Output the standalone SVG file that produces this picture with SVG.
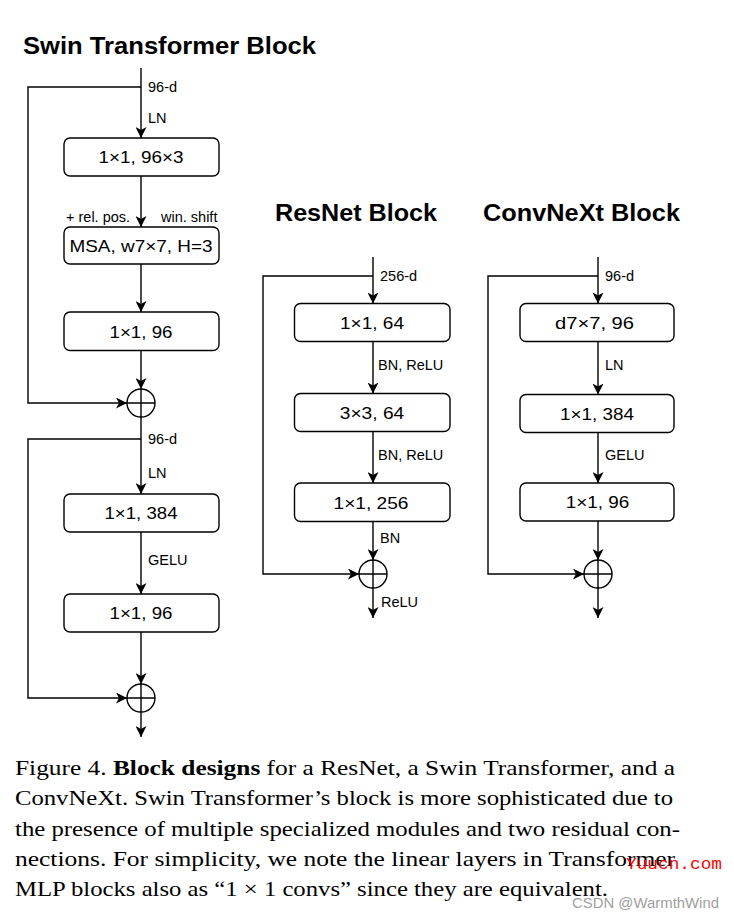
<svg xmlns="http://www.w3.org/2000/svg" width="734" height="918" viewBox="0 0 734 918">
<style>
  .box { fill: #fff; stroke: #000; stroke-width: 1.4; }
  .ln { fill: none; stroke: #000; stroke-width: 1.4; }
  .arr { marker-end: url(#ah); }
  .sum { fill: #fff; stroke: #000; stroke-width: 1.4; }
  .bt { font-family: "Liberation Sans", Arial, sans-serif; font-size: 17px; text-anchor: middle; fill: #000; }
  .lb { font-family: "Liberation Sans", Arial, sans-serif; font-size: 14.5px; fill: #000; }
  .ttl { font-family: "Liberation Sans", Arial, sans-serif; font-size: 23.5px; font-weight: bold; fill: #000; }
  .cap { font-family: "Liberation Serif", "Times New Roman", serif; font-size: 21.5px; fill: #000; }
</style>
<defs>
  <marker id="ah" markerUnits="userSpaceOnUse" markerWidth="12" markerHeight="11" viewBox="0 0 12 11" refX="11" refY="5.5" orient="auto">
    <path d="M0,0 L11,5.5 L0,11 L3,5.5 Z" fill="#000"/>
  </marker>
</defs>
<rect width="734" height="918" fill="#fff"/>

<!-- Titles -->
<text class="ttl" x="23" y="54" textLength="293" lengthAdjust="spacingAndGlyphs">Swin Transformer Block</text>
<text class="ttl" x="275" y="220.5" textLength="162" lengthAdjust="spacingAndGlyphs">ResNet Block</text>
<text class="ttl" x="483" y="220.5" textLength="197" lengthAdjust="spacingAndGlyphs">ConvNeXt Block</text>

<!-- Connectors -->
<g id="connectors">
  <!-- Swin -->
  <path class="ln arr" d="M141,68 L141,138"/>
  <path class="ln arr" d="M141,87 L28,87 L28,403 L127,403"/>
  <path class="ln arr" d="M141,176 L141,227"/>
  <path class="ln arr" d="M141,264 L141,312"/>
  <path class="ln arr" d="M141,350.5 L141,389"/>
  <path class="ln arr" d="M141,417 L141,494"/>
  <path class="ln arr" d="M141,439 L28,439 L28,698 L127,698"/>
  <path class="ln arr" d="M141,532 L141,594"/>
  <path class="ln arr" d="M141,632 L141,684"/>
  <path class="ln arr" d="M141,712 L141,737"/>
  <!-- ResNet -->
  <path class="ln arr" d="M373,257 L373,303.5"/>
  <path class="ln arr" d="M373,276 L263,276 L263,574 L359,574"/>
  <path class="ln arr" d="M373,341.5 L373,393.5"/>
  <path class="ln arr" d="M373,431.5 L373,483"/>
  <path class="ln arr" d="M373,521.5 L373,560"/>
  <path class="ln arr" d="M373,588 L373,618"/>
  <!-- ConvNeXt -->
  <path class="ln arr" d="M598,257 L598,303.5"/>
  <path class="ln arr" d="M598,276 L488,276 L488,574 L584,574"/>
  <path class="ln arr" d="M598,341.5 L598,394.5"/>
  <path class="ln arr" d="M598,432.5 L598,483"/>
  <path class="ln arr" d="M598,521 L598,560"/>
  <path class="ln arr" d="M598,588 L598,618"/>
</g>

<!-- Connector labels -->
<g id="labels">
  <text class="lb" x="148" y="92">96-d</text>
  <text class="lb" x="148" y="122.5">LN</text>
  <text class="lb" x="66" y="221.5" font-size="13.5">+ rel. pos.</text>
  <text class="lb" x="161" y="221.5" font-size="13.5">win. shift</text>
  <text class="lb" x="148" y="444">96-d</text>
  <text class="lb" x="148" y="478">LN</text>
  <text class="lb" x="148" y="565">GELU</text>

  <text class="lb" x="380" y="281">256-d</text>
  <text class="lb" x="378" y="370">BN, ReLU</text>
  <text class="lb" x="378" y="460">BN, ReLU</text>
  <text class="lb" x="380" y="543">BN</text>
  <text class="lb" x="381" y="607">ReLU</text>

  <text class="lb" x="605" y="281">96-d</text>
  <text class="lb" x="605" y="370">LN</text>
  <text class="lb" x="605" y="460">GELU</text>
</g>

<!-- Swin nodes -->
<g id="swin-qkv"><rect class="box" x="64" y="138" width="155" height="38" rx="6"/><text class="bt" x="141" y="163" textLength="85" lengthAdjust="spacingAndGlyphs">1×1, 96×3</text></g>
<g id="swin-msa"><rect class="box" x="64" y="227" width="155" height="37" rx="6"/><text class="bt" x="141" y="252" textLength="143" lengthAdjust="spacingAndGlyphs">MSA, w7×7, H=3</text></g>
<g id="swin-proj"><rect class="box" x="64" y="312" width="155" height="38.5" rx="6"/><text class="bt" x="141" y="337.5" textLength="63" lengthAdjust="spacingAndGlyphs">1×1, 96</text></g>
<g id="swin-add1"><circle class="sum" cx="141" cy="403" r="14"/><path class="ln" d="M127,403 H155 M141,389 V417"/></g>
<g id="swin-mlp1"><rect class="box" x="64" y="494" width="155" height="38" rx="6"/><text class="bt" x="141" y="519" textLength="73" lengthAdjust="spacingAndGlyphs">1×1, 384</text></g>
<g id="swin-mlp2"><rect class="box" x="64" y="594" width="155" height="38" rx="6"/><text class="bt" x="141" y="619" textLength="63" lengthAdjust="spacingAndGlyphs">1×1, 96</text></g>
<g id="swin-add2"><circle class="sum" cx="141" cy="698" r="14"/><path class="ln" d="M127,698 H155 M141,684 V712"/></g>

<!-- ResNet nodes -->
<g id="res-c1"><rect class="box" x="294.5" y="303.5" width="155.5" height="38" rx="6"/><text class="bt" x="372" y="328.5" textLength="64" lengthAdjust="spacingAndGlyphs">1×1, 64</text></g>
<g id="res-c2"><rect class="box" x="294.5" y="393.5" width="155.5" height="38" rx="6"/><text class="bt" x="372" y="418.5" textLength="64.5" lengthAdjust="spacingAndGlyphs">3×3, 64</text></g>
<g id="res-c3"><rect class="box" x="294.5" y="483" width="155.5" height="38.5" rx="6"/><text class="bt" x="371" y="508.5" textLength="75" lengthAdjust="spacingAndGlyphs">1×1, 256</text></g>
<g id="res-add"><circle class="sum" cx="373" cy="574" r="14"/><path class="ln" d="M359,574 H387 M373,560 V588"/></g>

<!-- ConvNeXt nodes -->
<g id="cnx-c1"><rect class="box" x="520" y="303.5" width="154" height="38" rx="6"/><text class="bt" x="594.5" y="328.5" textLength="79" lengthAdjust="spacingAndGlyphs">d7×7, 96</text></g>
<g id="cnx-c2"><rect class="box" x="520" y="394.5" width="154" height="38" rx="6"/><text class="bt" x="597" y="419.5" textLength="74" lengthAdjust="spacingAndGlyphs">1×1, 384</text></g>
<g id="cnx-c3"><rect class="box" x="520" y="483" width="154" height="38" rx="6"/><text class="bt" x="597.5" y="508" textLength="63.5" lengthAdjust="spacingAndGlyphs">1×1, 96</text></g>
<g id="cnx-add"><circle class="sum" cx="598" cy="574" r="14"/><path class="ln" d="M584,574 H612 M598,560 V588"/></g>

<!-- Caption -->
<text class="cap" x="15" y="775" textLength="660" lengthAdjust="spacingAndGlyphs">Figure 4. <tspan font-weight="bold">Block designs</tspan> for a ResNet, a Swin Transformer, and a</text>
<text class="cap" x="15" y="805" textLength="658" lengthAdjust="spacingAndGlyphs">ConvNeXt. Swin Transformer’s block is more sophisticated due to</text>
<text class="cap" x="15" y="835.5" textLength="665" lengthAdjust="spacingAndGlyphs">the presence of multiple specialized modules and two residual con-</text>
<text class="cap" x="15" y="866" textLength="660" lengthAdjust="spacingAndGlyphs">nections. For simplicity, we note the linear layers in Transformer</text>
<text class="cap" x="15" y="896" textLength="593" lengthAdjust="spacingAndGlyphs">MLP blocks also as “1 × 1 convs” since they are equivalent.</text>

<!-- Watermarks -->
<text x="626" y="869" font-family="Liberation Mono, Courier New, monospace" font-size="17" fill="#ff0000" textLength="96" lengthAdjust="spacingAndGlyphs">Yuucn.com</text>
<text x="572" y="907.5" font-family="Liberation Sans, Arial, sans-serif" font-size="15" fill="#a0a0a0" textLength="147" lengthAdjust="spacingAndGlyphs">CSDN @WarmthWind</text>
</svg>
